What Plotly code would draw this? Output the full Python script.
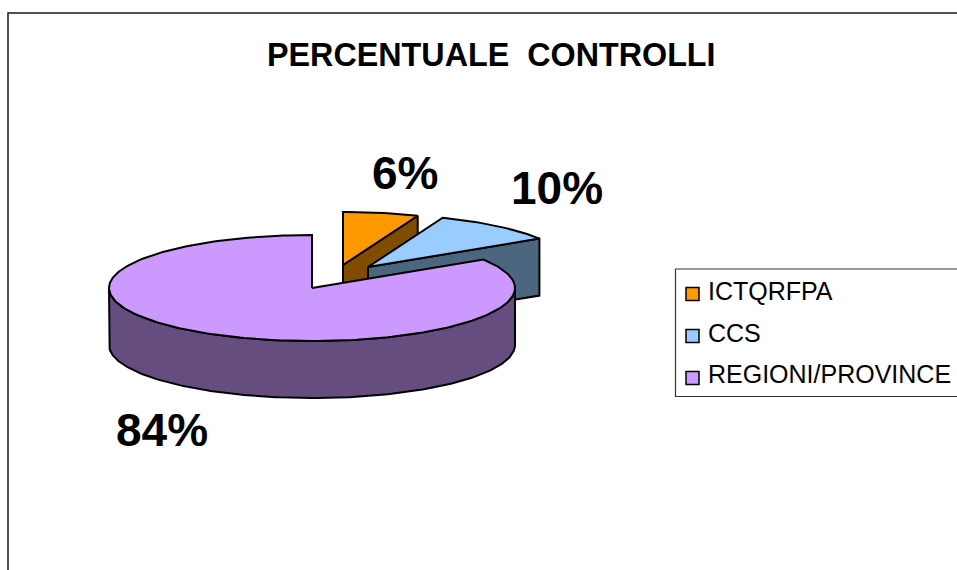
import numpy as np
import plotly.graph_objects as go

categories = ["ICTQRFPA", "CCS", "REGIONI/PROVINCE"]
values = [6, 10, 84]
percent_labels = ["6%", "10%", "84%"]
title_text = "PERCENTUALE\u00a0\u00a0CONTROLLI"

top_colors = ["#FF9900", "#99CCFF", "#CC99FF"]
side_colors = ["#804D00", "#4D6680", "#664D80"]
apexes = [(343, 265), (368, 267), (312, 288)]
RX, RY, DEPTH = 203, 53, 57
FONT = "Liberation Sans, Arial, sans-serif"

fracs = np.array(values, dtype=float) / sum(values)
ends = np.cumsum(fracs) * 2 * np.pi
starts = np.concatenate([[0], ends[:-1]])


def rim(apex, a0, a1, dy=0):
    n = max(int(abs(a1 - a0) / 0.02), 2)
    t = np.linspace(a0, a1, n)
    return apex[0] + RX * np.sin(t), apex[1] - RY * np.cos(t) + dy


def poly(fig, x, y, color, name):
    fig.add_trace(go.Scatter(
        x=list(x) + [x[0]], y=list(y) + [y[0]], mode="lines", fill="toself",
        fillcolor=color, line=dict(color="black", width=2), name=name,
        showlegend=False, hoverinfo="skip"))


fig = go.Figure()
for i, cat in enumerate(categories):
    ax, ay = apexes[i]
    a0, a1 = starts[i], ends[i]
    if i < 2:
        # cut face along the clockwise end of the exploded slice
        ex = ax + RX * np.sin(a1)
        ey = ay - RY * np.cos(a1)
        poly(fig, [ax, ex, ex, ax], [ay, ey, ey + DEPTH, ay + DEPTH], side_colors[i], cat)
    else:
        # outer wall, visible along the front half of the pie only
        w0 = max(a0, 0.5 * np.pi)
        xt, yt = rim(apexes[i], w0, 1.5 * np.pi)
        xb, yb = rim(apexes[i], w0, 1.5 * np.pi, DEPTH)
        poly(fig, np.r_[xt, xb[::-1]], np.r_[yt, yb[::-1]], side_colors[i], cat)
    xr, yr = rim(apexes[i], a0, a1)
    poly(fig, np.r_[ax, xr], np.r_[ay, yr], top_colors[i], cat)

legend_y = [294, 336, 378]
fig.add_trace(go.Scatter(
    x=[692.5] * 3, y=legend_y, mode="markers", showlegend=False, hoverinfo="skip",
    marker=dict(symbol="square", size=13, color=top_colors, line=dict(color="black", width=1.5))))

annotations = [
    dict(x=491, y=55, text=f"<b>{title_text}</b>", font=dict(size=32.3, family=FONT, color="black")),
]
for (px, py), lab in zip([(405, 173), (557, 188), (162, 430)], percent_labels):
    annotations.append(dict(x=px, y=py, text=f"<b>{lab}</b>", font=dict(size=46, family=FONT, color="black")))
for cat, ly in zip(categories, [291, 333, 374]):
    annotations.append(dict(x=706, y=ly, text=cat, xanchor="left",
                            font=dict(size=25, family=FONT, color="black")))
for a in annotations:
    a.update(xref="x", yref="y", showarrow=False)
    a.setdefault("xanchor", "center")
    a["yanchor"] = "middle"

fig.update_layout(
    width=957, height=570, margin=dict(l=0, r=0, t=0, b=0),
    paper_bgcolor="white", plot_bgcolor="white", showlegend=False,
    xaxis=dict(range=[0, 957], visible=False, fixedrange=True),
    yaxis=dict(range=[570, 0], visible=False, fixedrange=True),
    annotations=annotations,
    shapes=[
        dict(type="path", path="M 8 575 L 8 13 L 965 13", xref="x", yref="y",
             line=dict(color="#1a1a1a", width=1.5), layer="below"),
        dict(type="path", path="M 965 269 L 675.5 269 L 675.5 396.5 L 965 396.5", xref="x", yref="y",
             line=dict(color="#333333", width=1.2), layer="below"),
    ],
)
fig.write_html("out.html", config=dict(displayModeBar=False),
               post_script="document.body.style.margin='0';document.body.style.overflow='hidden';")
